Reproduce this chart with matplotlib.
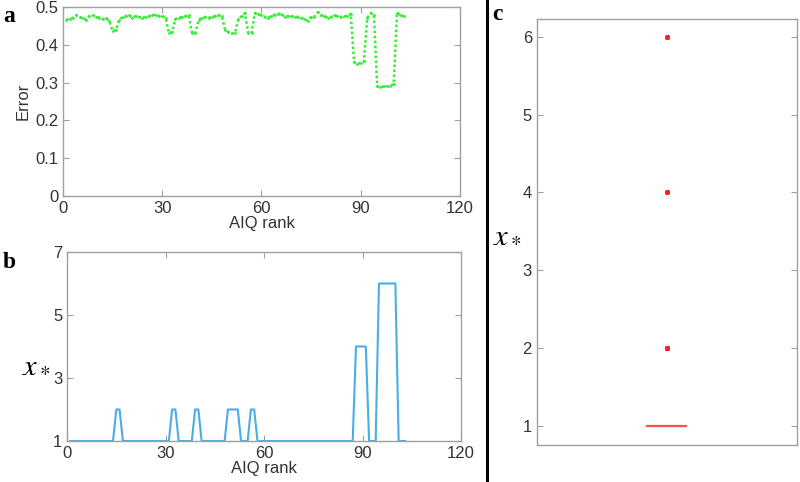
import matplotlib
matplotlib.use('Agg')
from matplotlib import pyplot as plt

plt.rcParams['font.family'] = ['Liberation Sans', 'DejaVu Sans']
plt.rcParams['mathtext.fontset'] = 'stix'

# AIQ rank 1..103
rank = list(range(1, 104))

error = [0.467, 0.468, 0.472, 0.478, 0.474, 0.470, 0.466, 0.476, 0.478, 0.474,
         0.472, 0.468, 0.470, 0.464, 0.436, 0.440, 0.466, 0.474, 0.476, 0.478,
         0.472, 0.476, 0.474, 0.472, 0.474, 0.476, 0.478, 0.480, 0.476, 0.476,
         0.472, 0.432, 0.434, 0.468, 0.472, 0.474, 0.476, 0.478, 0.432, 0.430,
         0.466, 0.472, 0.474, 0.472, 0.474, 0.476, 0.478, 0.476, 0.440, 0.434,
         0.430, 0.432, 0.468, 0.476, 0.484, 0.432, 0.430, 0.484, 0.482, 0.478,
         0.474, 0.472, 0.476, 0.480, 0.482, 0.482, 0.474, 0.476, 0.476, 0.474,
         0.474, 0.472, 0.468, 0.464, 0.474, 0.474, 0.486, 0.478, 0.476, 0.472,
         0.474, 0.478, 0.476, 0.474, 0.476, 0.476, 0.482, 0.355, 0.350, 0.352,
         0.356, 0.472, 0.483, 0.480, 0.290, 0.288, 0.290, 0.290, 0.292, 0.296,
         0.485, 0.480, 0.475]

xstar = [1] * 103
for r in [15, 16, 32, 33, 39, 40, 49, 50, 51, 52, 56, 57]:
    xstar[r - 1] = 2
for r in [88, 89, 90, 91]:
    xstar[r - 1] = 4
for r in [95, 96, 97, 98, 99, 100]:
    xstar[r - 1] = 6

xticks_rank = [0, 30, 60, 90, 120]
yticks_err = [0, 0.1, 0.2, 0.3, 0.4, 0.5]
yticks_xs = [1, 3, 5, 7]
yticks_box = [1, 2, 3, 4, 5, 6]

spine_col = '#a0a0a0'
tick_col = '#333333'


def matlab_axes(ax):
    for s in ax.spines.values():
        s.set_color(spine_col)
        s.set_linewidth(1.0)
    ax.tick_params(direction='in', length=4, width=0.8, color=spine_col,
                   labelcolor=tick_col, labelsize=12, top=True, right=True)


fig = plt.figure(figsize=(8, 4.82), dpi=100)

# panel a
ax1 = fig.add_axes([0.0788, 0.5934, 0.496, 0.392])
ax1.plot(rank, error, color='#33ee33', linestyle=(0, (1, 1)), linewidth=1.8,
         marker='.', markersize=2)
ax1.set_xlim(0, 120)
ax1.set_ylim(0, 0.5)
ax1.set_xticks(xticks_rank)
ax1.set_yticks(yticks_err)
ax1.set_yticklabels(['0', '0.1', '0.2', '0.3', '0.4', '0.5'])
ax1.set_xlabel('AIQ rank', fontsize=12, color=tick_col, labelpad=0)
ax1.set_ylabel('Error', fontsize=12, color=tick_col, labelpad=3)
matlab_axes(ax1)

# panel b
ax2 = fig.add_axes([0.0838, 0.0851, 0.4925, 0.392])
ax2.plot(rank, xstar, color='#4aaee6', linewidth=1.5)
ax2.set_xlim(0, 120)
ax2.set_ylim(1, 7)
ax2.set_xticks(xticks_rank)
ax2.set_yticks(yticks_xs)
ax2.set_xlabel('AIQ rank', fontsize=12, color=tick_col, labelpad=0)
ax2.set_ylabel(r'$x_*$', fontsize=22, rotation=0, color='black')
ax2.yaxis.set_label_coords(-0.078, 0.33)
matlab_axes(ax2)

# panel c
ax3 = fig.add_axes([0.671, 0.0768, 0.325, 0.884])
red = '#ff5050'
ax3.boxplot(xstar, positions=[1], widths=0.15,
            boxprops=dict(color=red, linewidth=1.5),
            medianprops=dict(color=red, linewidth=1.5),
            whiskerprops=dict(color=red, linewidth=1.5),
            capprops=dict(color=red, linewidth=0),
            flierprops=dict(marker='.', markerfacecolor='#ff2020',
                            markeredgecolor='#ff2020', markersize=5))
ax3.set_xlim(0.5, 1.5)
ax3.set_ylim(0.755, 6.23)
ax3.set_yticks(yticks_box)
ax3.set_xticks([])
ax3.set_ylabel(r'$x_*$', fontsize=22, rotation=0, color='black')
ax3.yaxis.set_label_coords(-0.115, 0.46)
matlab_axes(ax3)
ax3.tick_params(axis='x', top=False, bottom=False)

# divider line and panel letters
fig.add_artist(plt.Line2D([0.609, 0.609], [0, 1], color='black', linewidth=2.2,
                          transform=fig.transFigure))
fig.text(0.004, 0.965, 'a', fontsize=17, fontweight='bold',
         family='Liberation Serif', va='center')
fig.text(0.004, 0.455, 'b', fontsize=17, fontweight='bold',
         family='Liberation Serif', va='center')
fig.text(0.615, 0.97, 'c', fontsize=17, fontweight='bold',
         family='Liberation Serif', va='center')

fig.savefig('out.png', dpi=100)
